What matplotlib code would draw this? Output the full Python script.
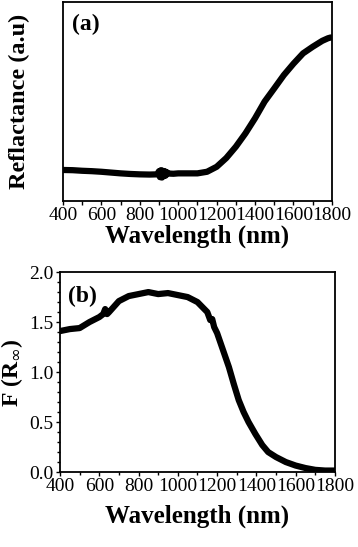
import matplotlib
matplotlib.use('Agg')
import matplotlib.pyplot as plt
from matplotlib.ticker import MultipleLocator

plt.rcParams['font.family'] = 'Liberation Serif'

wl_a = [400, 450, 500, 550, 600, 650, 700, 750, 800, 850, 890, 900, 905, 910, 915,
        920, 925, 930, 935, 940, 950, 975, 1000, 1050, 1100, 1150, 1200, 1250,
        1300, 1350, 1400, 1450, 1500, 1550, 1600, 1650, 1700, 1750, 1780, 1795]
refl = [0.156, 0.155, 0.152, 0.150, 0.147, 0.143, 0.139, 0.136, 0.134, 0.133, 0.134,
        0.150, 0.120, 0.155, 0.118, 0.152, 0.125, 0.150, 0.128, 0.145, 0.138, 0.137,
        0.139, 0.139, 0.139, 0.147, 0.172, 0.216, 0.273, 0.340, 0.416, 0.500,
        0.566, 0.633, 0.690, 0.742, 0.775, 0.805, 0.818, 0.822]

# panel (b): Kubelka-Munk function
wl_b = [400, 450, 500, 550, 600, 620, 630, 640, 650, 700, 750, 800, 850, 900, 950,
        1000, 1050, 1100, 1150, 1165, 1175, 1185, 1200, 1230, 1260, 1285, 1310,
        1335, 1360, 1395, 1430, 1460, 1500, 1550, 1600, 1650, 1700, 1750, 1800]
fr = [1.41, 1.43, 1.44, 1.50, 1.55, 1.58, 1.63, 1.58, 1.60, 1.71, 1.76, 1.78, 1.80,
      1.78, 1.79, 1.77, 1.75, 1.70, 1.60, 1.52, 1.53, 1.45, 1.39, 1.22, 1.05, 0.88,
      0.72, 0.60, 0.50, 0.38, 0.27, 0.20, 0.15, 0.10, 0.065, 0.04, 0.022, 0.015, 0.015]

xticks = [400, 600, 800, 1000, 1200, 1400, 1600, 1800]

fig = plt.figure(figsize=(3.58, 5.47), dpi=100)

ax1 = fig.add_axes([0.176, 0.6325, 0.751, 0.3638])
ax1.plot(wl_a, refl, color='black', linewidth=4.5, solid_capstyle='round', solid_joinstyle='round')
ax1.set_xlim(400, 1800)
ax1.set_ylim(0, 1)
ax1.set_xticks(xticks)
ax1.xaxis.set_minor_locator(MultipleLocator(100))
ax1.set_yticks([])
ax1.tick_params(axis='x', which='both', direction='out', length=3, width=1, labelsize=14, pad=1.5)
ax1.set_xlabel('Wavelength (nm)', fontsize=18, fontweight='bold', labelpad=0)
ax1.set_ylabel('Reflactance (a.u)', fontsize=17.5, fontweight='bold', labelpad=24)
ax1.text(0.035, 0.94, '(a)', transform=ax1.transAxes, fontsize=17, fontweight='bold', va='top')
for s in ax1.spines.values():
    s.set_linewidth(1.3)

ax2 = fig.add_axes([0.1676, 0.137, 0.768, 0.3656])
ax2.plot(wl_b, fr, color='black', linewidth=4.5, solid_capstyle='round', solid_joinstyle='round')
ax2.set_xlim(400, 1800)
ax2.set_ylim(0, 2.0)
ax2.set_xticks(xticks)
ax2.xaxis.set_minor_locator(MultipleLocator(100))
ax2.set_yticks([0.0, 0.5, 1.0, 1.5, 2.0])
ax2.yaxis.set_minor_locator(MultipleLocator(0.1))
ax2.tick_params(which='both', direction='out', length=3, width=1, labelsize=14, pad=1.5)
ax2.tick_params(which='minor', length=2)
ax2.set_xlabel('Wavelength (nm)', fontsize=18, fontweight='bold', labelpad=7)
ax2.set_ylabel(r'F (R$_\infty$)', fontsize=17, fontweight='bold', labelpad=3)
ax2.text(0.03, 0.93, '(b)', transform=ax2.transAxes, fontsize=17, fontweight='bold', va='top')
for s in ax2.spines.values():
    s.set_linewidth(1.3)

fig.savefig('out.png', dpi=100)
